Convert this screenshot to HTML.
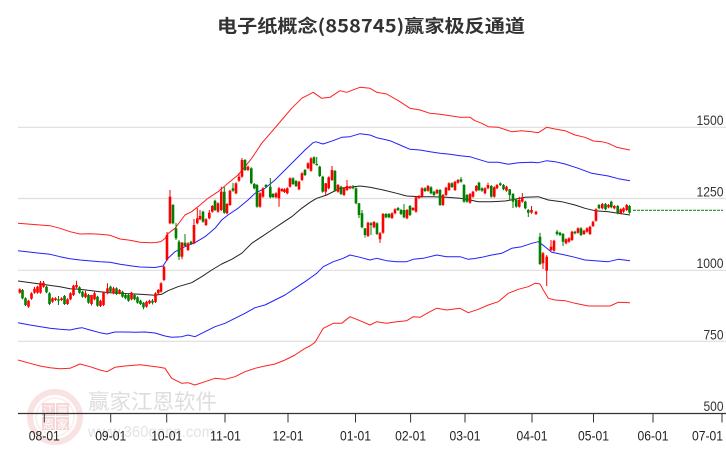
<!DOCTYPE html>
<html><head><meta charset="utf-8"><style>
html,body{margin:0;padding:0;background:#fff;}
svg{display:block;}
text{font-family:"Liberation Sans","Noto Sans CJK SC",sans-serif;}
</style></head><body>
<svg id="s" width="726" height="450" viewBox="0 0 726 450" xmlns="http://www.w3.org/2000/svg">
<rect width="726" height="450" fill="#fff"/>
<!-- watermark -->
<g opacity="0.55">
<circle cx="55" cy="417" r="25" fill="none" stroke="#f3cccc" stroke-width="6"/>
<circle cx="55" cy="417" r="19" fill="none" stroke="#f8e2e2" stroke-width="2"/>
<rect x="42" y="403" width="13" height="13" fill="#f0b8b8"/>
<rect x="56" y="403" width="13" height="13" fill="#f0b8b8"/>
<rect x="42" y="417" width="13" height="13" fill="#f0b8b8"/>
<rect x="56" y="417" width="13" height="13" fill="#f0b8b8"/>
<text x="48.5" y="414" font-size="11" fill="#fff" text-anchor="middle" style="font-family:'Noto Sans CJK SC',sans-serif">江</text>
<text x="62.5" y="414" font-size="11" fill="#fff" text-anchor="middle" style="font-family:'Noto Sans CJK SC',sans-serif">赢</text>
<text x="48.5" y="428" font-size="11" fill="#fff" text-anchor="middle" style="font-family:'Noto Sans CJK SC',sans-serif">恩</text>
<text x="62.5" y="428" font-size="11" fill="#fff" text-anchor="middle" style="font-family:'Noto Sans CJK SC',sans-serif">家</text>
</g>
<g opacity="0.75">
<text x="88" y="409" font-size="21" fill="#d2d2d2" textLength="129" lengthAdjust="spacingAndGlyphs" style="font-family:'Noto Sans CJK SC',sans-serif">赢家江恩软件</text>
<text x="88" y="437" font-size="16" fill="#dadada" textLength="126" lengthAdjust="spacingAndGlyphs">www.360gann.com</text>
</g>
<!-- grid -->
<g stroke="#dedede" stroke-width="1.2">
<line x1="18" y1="127.3" x2="726" y2="127.3"/>
<line x1="18" y1="198.5" x2="726" y2="198.5"/>
<line x1="18" y1="270.3" x2="726" y2="270.3"/>
<line x1="18" y1="341.3" x2="726" y2="341.3"/>
</g>
<g fill="#333" font-size="14" text-anchor="end">
<text x="723.5" y="125" textLength="27" lengthAdjust="spacingAndGlyphs">1500</text>
<text x="723.5" y="196.5" textLength="27" lengthAdjust="spacingAndGlyphs">1250</text>
<text x="723.5" y="268" textLength="27" lengthAdjust="spacingAndGlyphs">1000</text>
<text x="723.5" y="339.5" textLength="20" lengthAdjust="spacingAndGlyphs">750</text>
<text x="723.5" y="411" textLength="20" lengthAdjust="spacingAndGlyphs">500</text>
</g>
<!-- lines -->
<g fill="none" stroke-width="1" stroke-linejoin="round">
<polyline stroke="#ff2020" points="18,223.3 40,225 50,225.7 60,228.3 70,231.7 80,234 90,233.7 100,234.3 110,235.3 120,239 130,240.3 140,242.3 150,242.7 156,242.5 161,241.5 165,238.5 168.3,233.3 175,228.3 185,215 191.7,211.7 198,206.7 208,198.3 218,191.7 228,183.3 238,175 245,166.7 251.7,158.3 261.7,143.3 271.7,131.7 281.7,120 291.7,108.3 301.7,98.3 313.3,92.3 321.7,98.3 330,97.3 340,90.7 346.7,92.3 360,87.3 370,88.3 376.7,92.3 386.7,94 400,101.7 410,108.3 420,110 430,113.3 440,114.3 450,115.7 460,117.3 470,117.3 475,120.7 481.7,123.3 488.3,126.7 498.3,127.3 511.7,131.7 521.7,130.7 531.7,131.7 538.3,132.7 546.7,127.3 555,129 565,130.7 575,135 585,137.3 593.3,141 601.7,141.7 608.3,143.3 616.7,147.3 625,149 630,150"/>
<polyline stroke="#2020ff" points="18,250.7 40,253.3 50,254.3 60,256.7 70,258.7 80,260 100,261.7 110,262.3 120,264.3 130,265.7 140,267 155,267.5 163,266 168,258.3 175,251.7 185,246.7 195,242.7 205,236.7 215,228.3 221.7,220 228,215 238,208.3 248,200 255,193.3 265,188.3 275,180 285,170 295,160 305,150 313,142.7 316,141.8 323,144 333,140.7 341.7,137.3 350,136.7 360,133.7 370,135 376.7,137.7 390,140.7 400,145 410,149.3 420,150 430,151.7 440,153.3 450,154.3 460,155.7 470,156.7 475,158.3 488.3,162.3 498.3,162.3 508.3,164.3 518.3,162.7 531.7,162.3 538.3,162.7 546.7,160.7 555,161.7 565,164 578.3,168.3 591.7,173.3 608.3,176 618.3,178.7 630,180.7"/>
<polyline stroke="#222" points="18,281 40,284 60,286.7 70,288.7 80,289.3 100,291.7 110,292.7 120,293.3 140,294.3 155,295.3 161.7,294.3 168,290.7 178,286.7 191.7,282.7 201.7,276.7 211.7,270 221.7,264 231.7,259.3 241.7,253.3 251.7,243.3 261.7,236.7 271.7,230 281.7,223.3 291.7,216.7 301.7,208.3 310,202.3 316.7,198.3 326.7,195 340,188.3 353.3,186.7 360,186 370,187.3 383.3,190 396.7,193.3 406.7,196 420,196.7 433.3,196.7 446.7,197.3 460,198.3 470,200 478.3,201.7 491.7,201.7 505,201 515,199.3 525,197.3 538.3,196.7 548.3,200 561.7,201.7 575,205 585,208.3 595,210.7 608.3,211.7 618.3,213.3 630,215"/>
<polyline stroke="#2020ff" points="18,322.7 30,325 50,328.3 60,329.3 70,330 78,328.3 82,327.7 90,330 100,332.7 107,334 115,332 125,332 135,332.3 145,332 155,333 165,336 171.7,337.3 181.7,336.7 188,335 195,336.7 205,331.7 215,326.7 225,323.3 235,318.3 245,313.3 255,307.7 265,305 275,300 285,295 295,288.3 305,281.7 313,276 316.7,273.3 323.3,266.7 333.3,261.7 343.3,258.3 350,255 360,257.3 370,260 376.7,258.3 386.7,260.7 396.7,261.7 406.7,261.7 413.3,259.3 423.3,258.3 436.7,255 446.7,256.7 460,256.7 468.3,259.3 475,258.5 481.7,257.3 491.7,255 501.7,253.3 511.7,248.3 521.7,246.7 531.7,243.3 538.3,241.7 545,246.7 551.7,252.3 565,255 575,257.3 585,260 598.3,261 608.3,261.7 618.3,259.3 630,260.7"/>
<polyline stroke="#ff2020" points="18,360 30,363.3 40,366 50,367.7 60,368.7 70,368.3 80,364 90,366.7 100,370 107,371.7 115,367.3 125,366 140,364.7 150,366 158,367 165,368.3 171.7,378.3 181.7,383.3 188,382.7 195,385 205,381.7 215,378.3 225,379.3 235,376.7 245,371.7 255,368.3 265,366 275,364 285,360 295,355 305,348.3 310,346 315,342.3 323.3,328.3 333.3,323.3 341.7,323.3 350,316.7 360,320.7 370,325 376.7,321.7 386.7,323.3 396.7,321.7 406.7,320.7 413.3,316.7 420,317.3 430,311.7 436.7,308.3 446.7,310 460,308.3 468.3,312.7 478.3,309.3 488.3,305 498.3,301.7 508.3,293.3 518.3,289.3 528.3,286.7 535,283.3 540,284 543.3,290 548.3,298.3 555,300 565,300.7 575,303.3 588.3,306 598.3,306 610,306 618.3,302.3 630,302.7"/>
</g>
<g id="cd"></g>
<line x1="633" y1="210.3" x2="723" y2="210.3" stroke="#008000" stroke-width="1" stroke-dasharray="3,1"/>
<!-- axis -->
<line x1="18" y1="413.5" x2="726" y2="413.5" stroke="#333" stroke-width="1.2"/>
<g stroke="#333" stroke-width="1">
<line x1="44.3" y1="413.5" x2="44.3" y2="422.5"/>
<line x1="110.7" y1="413.5" x2="110.7" y2="422.5"/>
<line x1="166.7" y1="413.5" x2="166.7" y2="422.5"/>
<line x1="225" y1="413.5" x2="225" y2="422.5"/>
<line x1="288" y1="413.5" x2="288" y2="422.5"/>
<line x1="355.5" y1="413.5" x2="355.5" y2="422.5"/>
<line x1="410.6" y1="413.5" x2="410.6" y2="422.5"/>
<line x1="465" y1="413.5" x2="465" y2="422.5"/>
<line x1="532" y1="413.5" x2="532" y2="422.5"/>
<line x1="593.5" y1="413.5" x2="593.5" y2="422.5"/>
<line x1="653" y1="413.5" x2="653" y2="422.5"/>
<line x1="722" y1="413.5" x2="722" y2="422.5"/>
</g>
<g fill="#222" font-size="14" text-anchor="middle">
<text x="44.3" y="440.5" textLength="31" lengthAdjust="spacingAndGlyphs">08-01</text>
<text x="110.7" y="440.5" textLength="31" lengthAdjust="spacingAndGlyphs">09-01</text>
<text x="166.7" y="440.5" textLength="31" lengthAdjust="spacingAndGlyphs">10-01</text>
<text x="225.5" y="440.5" textLength="31" lengthAdjust="spacingAndGlyphs">11-01</text>
<text x="288" y="440.5" textLength="31" lengthAdjust="spacingAndGlyphs">12-01</text>
<text x="355.5" y="440.5" textLength="31" lengthAdjust="spacingAndGlyphs">01-01</text>
<text x="410.6" y="440.5" textLength="31" lengthAdjust="spacingAndGlyphs">02-01</text>
<text x="465" y="440.5" textLength="31" lengthAdjust="spacingAndGlyphs">03-01</text>
<text x="532" y="440.5" textLength="31" lengthAdjust="spacingAndGlyphs">04-01</text>
<text x="593.5" y="440.5" textLength="31" lengthAdjust="spacingAndGlyphs">05-01</text>
<text x="653" y="440.5" textLength="31" lengthAdjust="spacingAndGlyphs">06-01</text>
<text x="723" y="440.5" text-anchor="end" textLength="31" lengthAdjust="spacingAndGlyphs">07-01</text>
</g>
<text x="371" y="32.5" font-size="18" font-weight="bold" fill="#333" text-anchor="middle" textLength="308" lengthAdjust="spacingAndGlyphs" style="font-family:'Noto Sans CJK SC','Liberation Sans',sans-serif">电子纸概念(858745)赢家极反通道</text>
</svg>
<script>
(function(){
var C=[
[19.8,289.3,292.7,'r'],[22.5,290,298.3,'g'],[25.5,298.3,305,'g'],[28.5,300.7,306.7,'r'],[31.5,293.3,298.7,'r'],
[34.5,288.7,292.7,'r',286.7],[37.5,286.7,292.7,'r'],[40.5,282.7,292.7,'r',281],[43.5,282.7,286.7,'r',281],
[46.5,286.7,292.3,'g'],[49.5,293.3,304,'g'],[52.5,298.3,301.7,'r'],[55.5,298.3,300,'r'],[58.5,299.3,300.7,'g',296,305],
[61.5,298.3,300,'r'],[64.5,296,304,'g'],[67.5,299.3,304,'r'],[70.5,293.3,299.3,'r'],[73.5,285.7,295,'r'],
[76.5,285,287.3,'r',280.7],[79.5,287.3,292.7,'g'],[82.5,291.7,296.7,'g'],[85.5,293.3,297.3,'r',290.7],
[88.5,295,302.7,'g'],[91.5,295,304,'r',295,305.5],[94.5,293.3,299.3,'r',291.7],[97.5,296.7,305.7,'g'],
[100.5,300.7,306,'r'],[103.5,292.7,305,'r'],[107.5,288.3,293.3,'r',283.3],[110.5,286.7,291.7,'g'],
[113.5,288.3,293.3,'r',286.7],[116.5,288.3,294,'g'],[119.5,290,293.3,'r'],[122.5,291.7,296.7,'g'],
[125.5,295,298.3,'g'],[128.5,295,300.7,'g'],[131.5,292.7,299.3,'r'],[134.5,295,299.3,'g'],[137.5,297.3,302.7,'g'],
[140.5,300.7,304,'g'],[143.5,302.7,307.3,'g',302,309.3],[146.5,301.7,306.7,'r'],[149.5,300.7,303.3,'r'],
[152.5,300.7,302.7,'g',299,304.5],[155.5,293.3,302,'r'],[158.3,290,293.3,'r'],[161,283.3,291.7,'r'],
[164,266.7,280,'r'],[167,235,260,'r',232],[170,196.7,223.3,'r',190],[173,205,223.3,'g'],[176,228.3,238.3,'g',223,240],
[179,241.7,256.7,'g',240,260],[182,242.7,256.7,'r',242,259.3],[185,242.7,246,'g',234,246],[188,243.3,250,'r'],
[191,241.7,244,'g'],[194,225,243.3,'r',219],[197.3,218.3,223.3,'r',208],[200,216,219.3,'r',210],[203,211.7,221.7,'g'],
[206,219.3,225,'r'],[209.3,212.7,218.3,'r',210],[212.3,206,211.7,'r'],[215,200.7,210,'g'],[218,203.3,211.7,'r'],
[221.3,191.7,210,'r',186.7],[224.3,191.7,212.7,'g',187],[227,204,213.3,'r'],[230,190.7,205,'r'],[233,188.3,190.7,'g',183],
[236,183.3,193.3,'r'],[239,176.7,180.7,'r',173],[242,160,176.7,'r',158],[245,160,170,'g'],[248,166.7,170,'r'],
[251.3,168.3,183.3,'g'],[254.3,184,188.3,'g'],[257,185,206.7,'g'],[260,193.3,206.7,'r'],[263,188.3,196.7,'r'],
[266,185,187,'g'],[270.3,186.7,197.3,'g',178],[273,194,197,'g'],[276,193.3,197.3,'r'],[279,188.3,198.3,'r',187,206.7],
[282,189,191,'r'],[284.5,189.3,192,'r'],[287.3,188.3,193.3,'r'],[290,178.3,186.7,'r'],[293,178.3,184,'g'],
[296,181,186,'g'],[299,181.7,189.3,'r'],[302,173.3,180,'r'],[305,170,175,'g'],[308,163.3,168.3,'r'],
[311,158.3,170.7,'r'],[314,157.3,163.3,'g'],[316.7,164,165,'g',157,165.5],[319.7,166.7,176,'g'],[322.7,176.7,191.7,'g'],
[325.7,183.3,191.7,'r',183,195],[328.7,177.3,188.3,'r'],[332,170,180,'r',166],[335,171,190.7,'g'],[338,185,191.7,'r'],
[341,186.7,194,'g'],[344,188.3,195,'r'],[347,186,190,'r',180],[350,186.7,188.3,'r'],[353,186.7,188.3,'g',185],
[356,188.3,203.3,'g'],[359,203.3,215,'g',203,218],[362,213.3,227.3,'g',210],[365,228.3,235,'g',228,237.5],
[368,222.7,236,'r'],[371,223.3,225,'g',222,235],[374,222,227.3,'r'],[377,223.3,234,'g'],[380,233.3,239.3,'r',232,243],
[383,214,232.7,'r'],[386,214,217.3,'g'],[389,214,217.3,'g'],[392,213.3,218,'r'],[395,209.3,213.3,'r'],[398,208,210,'g'],
[401,210,214,'g'],[404,210,217.3,'g',204],[407,210,218.3,'r'],[410,206,215,'g'],[413,208,210,'r'],[416,197.3,211.7,'r'],
[419,196,198,'r'],[422,188.3,196.7,'r'],[425,188.3,191,'g'],[428,186,190.7,'r'],[431,187.3,193.3,'g'],[434,191.7,195,'g'],
[437,190,193.3,'r'],[440,190,205,'g'],[443,195,205,'r'],[446,187.7,195,'r'],[449,183.3,190,'r'],[452,183.3,187,'g'],
[455,181.7,190,'r'],[458,180,182.7,'r'],[461,179.3,181.7,'g',177],[464,185,201.7,'g'],[467,195,201.7,'g'],
[470,194,202.7,'r'],[473,191.7,196.7,'r'],[476.3,186,190.7,'r'],[479,182.7,190,'g'],[482,188.3,190.7,'g'],
[485,188.3,193.3,'r'],[488,185,188.3,'r',182.7],[491.3,186,196.7,'g'],[494.3,187.3,196.7,'r'],[497,185,188.3,'r'],
[500.3,183.3,185,'g'],[503.5,185,189.3,'g'],[506.5,186.7,190.7,'r'],[509.7,189.3,195,'g',189,200],
[513,194,201.7,'g',193,208],[516.3,200,206.7,'g'],[519.3,200,206.7,'r',196.7],[522.3,198.3,201.7,'r',193],
[525.3,201.7,208.3,'g'],[528.3,210,212.7,'g',209,217],[531.5,210,212.7,'r',206],[536,211.7,214,'r'],
[540,236.7,264,'g',232.7],[543,253.3,263.3,'r',252,269],[546.7,256.7,270.7,'r',255,286],[551,246.7,250,'r',240],
[554,240.7,250.7,'r'],[557,231.7,234,'g',230,235.5],[560,232.7,235,'g'],[563,234,241.7,'g',233,246],[566,239.3,243.3,'r'],
[569,238.3,241.7,'r'],[572,231.7,240,'r'],[575,231.7,233.3,'g'],[578,228.3,232.7,'r'],[581,228.3,235,'g'],
[584,230.7,234,'r'],[587,228.3,231.7,'r'],[590,226.7,234,'r'],[593,221.7,226,'r'],[596,209.3,220.7,'r'],
[599,205,208.3,'g'],[602.3,204,208.3,'r'],[605.5,204,209.3,'g'],[608.5,205,207.3,'r'],[611.3,201.7,207.3,'g'],
[614.3,206,208.3,'r'],[617.7,206,213.3,'g'],[620.7,209.3,213.3,'r'],[623.5,208.3,211.7,'r'],[626.7,205,210,'r'],
[629.5,206,212.7,'g']
];
var h='';
for(var i=0;i<C.length;i++){
var d=C[i],x=d[0],a=d[1],b=d[2],col=d[3]=='r'?'#ff0000':'#008000';
var wt=(d[4]!==undefined)?d[4]:a-1,wb=(d[5]!==undefined)?d[5]:b+1;
h+='<line x1="'+x+'" y1="'+wt+'" x2="'+x+'" y2="'+wb+'" stroke="'+col+'" stroke-width="1"/>';
var hh=Math.max(b-a,1.2);
h+='<rect x="'+(x-1.3)+'" y="'+a+'" width="2.6" height="'+hh+'" fill="'+col+'"/>';
}
document.getElementById('cd').innerHTML=h;
})();
</script>
</body></html>
